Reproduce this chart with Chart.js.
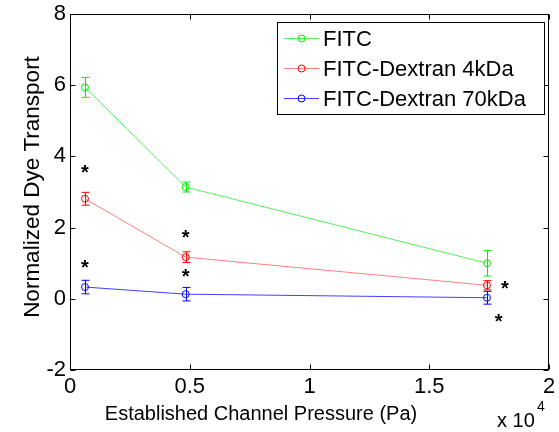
<!DOCTYPE html>
<html>
<head>
<meta charset="utf-8">
<script src="https://cdn.jsdelivr.net/npm/chart.js@4"></script>
<style>
  html, body { margin: 0; padding: 0; background: #fff; }
  #wrap { width: 559px; height: 432px; position: relative; }
</style>
</head>
<body>
<div id="wrap"><canvas id="chart" width="559" height="432"></canvas></div>
<script>
// pressure in Pa (axis is shown in units of 10^4)
const pressures = [626, 4830, 17410];
const seriesNames = ['FITC', 'FITC-Dextran 4kDa', 'FITC-Dextran 70kDa'];
const seriesColors = ['#00ee00', '#ff0000', '#0000ff'];
const lineColors = ['#55ee55', '#ff8080', '#4040ff'];

const fitcMean = [5.94, 3.14, 1.00];
const fitcErr = [0.28, 0.14, 0.36];
const dex4Mean = [2.81, 1.17, 0.38];
const dex4Err = [0.18, 0.15, 0.13];
const dex70Mean = [0.33, 0.13, 0.03];
const dex70Err = [0.19, 0.19, 0.18];

// significance asterisks
const starX = [626, 626, 4830, 4830, 18160, 17900];
const starY = [3.64, 0.97, 1.81, 0.72, 0.37, -0.55];

const xTicks = [0, 5000, 10000, 15000, 20000];
const yTicks = [-2, 0, 2, 4, 6, 8];

const means = [fitcMean, dex4Mean, dex70Mean];
const errs = [fitcErr, dex4Err, dex70Err];

const FONT = '"Liberation Sans", Arial, sans-serif';

function makeSet(i) {
  return {
    label: seriesNames[i],
    data: pressures.map((p, k) => ({ x: p, y: means[i][k], e: errs[i][k] })),
    borderColor: lineColors[i],
    pointBorderColor: seriesColors[i],
    pointBackgroundColor: 'rgba(0,0,0,0)',
    pointRadius: 3.5,
    pointBorderWidth: 1,
    borderWidth: 1,
    showLine: true,
    tension: 0
  };
}

const matlabAxes = {
  id: 'matlabAxes',
  beforeDatasetsDraw(chart) {
    const ctx = chart.ctx;
    const xs = chart.scales.x, ys = chart.scales.y;
    // error bars
    chart.data.datasets.forEach((ds, i) => {
      ctx.save();
      ctx.strokeStyle = seriesColors[i];
      ctx.lineWidth = 1;
      ds.data.forEach(pt => {
        const px = Math.round(xs.getPixelForValue(pt.x)) + 0.5;
        const top = ys.getPixelForValue(pt.y + pt.e);
        const bot = ys.getPixelForValue(pt.y - pt.e);
        ctx.beginPath();
        ctx.moveTo(px, top); ctx.lineTo(px, bot);
        ctx.moveTo(px - 4, top); ctx.lineTo(px + 4, top);
        ctx.moveTo(px - 4, bot); ctx.lineTo(px + 4, bot);
        ctx.stroke();
      });
      ctx.restore();
    });
  },
  afterDraw(chart) {
    const ctx = chart.ctx;
    const a = chart.chartArea;
    const xs = chart.scales.x, ys = chart.scales.y;
    ctx.save();
    // box
    ctx.strokeStyle = '#000';
    ctx.lineWidth = 1;
    const L = Math.round(a.left) + 0.5, R = Math.round(a.right) - 0.5;
    const T = Math.round(a.top) + 0.5, B = Math.round(a.bottom) - 0.5;
    ctx.strokeRect(L, T, R - L, B - T);
    // inward ticks
    ctx.beginPath();
    xTicks.forEach(v => {
      const px = Math.round(xs.getPixelForValue(v)) + 0.5;
      ctx.moveTo(px, B); ctx.lineTo(px, B - 5);
      ctx.moveTo(px, T); ctx.lineTo(px, T + 5);
    });
    yTicks.forEach(v => {
      const py = Math.round(ys.getPixelForValue(v)) + 0.5;
      ctx.moveTo(L, py); ctx.lineTo(L + 5, py);
      ctx.moveTo(R, py); ctx.lineTo(R - 5, py);
    });
    ctx.stroke();

    // tick labels
    ctx.fillStyle = '#000';
    ctx.font = '22px ' + FONT;
    ctx.textAlign = 'center';
    ctx.textBaseline = 'top';
    xTicks.forEach(v => {
      ctx.fillText(String(v / 10000), xs.getPixelForValue(v), a.bottom + 6);
    });
    ctx.textAlign = 'right';
    ctx.textBaseline = 'middle';
    yTicks.forEach(v => {
      ctx.fillText(String(v), a.left - 4, ys.getPixelForValue(v));
    });

    // axis titles
    ctx.font = '20px ' + FONT;
    ctx.textAlign = 'center';
    ctx.textBaseline = 'alphabetic';
    ctx.fillText('Established Channel Pressure (Pa)', 261, 420);
    ctx.save();
    ctx.font = '22.5px ' + FONT;
    ctx.translate(39, 187);
    ctx.rotate(-Math.PI / 2);
    ctx.fillText('Normalized Dye Transport', 0, 0);
    ctx.restore();

    // exponent label
    ctx.textAlign = 'left';
    ctx.font = '20px ' + FONT;
    ctx.fillText('x 10', 497, 427);
    ctx.font = '14px ' + FONT;
    ctx.fillText('4', 537, 411);

    // asterisks
    ctx.font = 'bold 20px ' + FONT;
    ctx.textAlign = 'center';
    ctx.textBaseline = 'middle';
    starX.forEach((x, k) => {
      ctx.fillText('*', xs.getPixelForValue(x), ys.getPixelForValue(starY[k]) + 4);
    });

    // legend box
    const lx = 277, ly = 22, lw = 267, lh = 92;
    ctx.fillStyle = '#fff';
    ctx.fillRect(lx, ly, lw, lh);
    ctx.strokeStyle = '#000';
    ctx.strokeRect(lx + 0.5, ly + 0.5, lw, lh);
    seriesNames.forEach((name, i) => {
      const yy = ly + 16 + i * 30 + 0.5;
      ctx.strokeStyle = lineColors[i];
      ctx.beginPath();
      ctx.moveTo(lx + 7, yy); ctx.lineTo(lx + 42, yy);
      ctx.stroke();
      ctx.strokeStyle = seriesColors[i];
      ctx.beginPath();
      ctx.arc(lx + 24.5, yy, 3.5, 0, Math.PI * 2);
      ctx.stroke();
      ctx.fillStyle = '#000';
      ctx.font = '22px ' + FONT;
      ctx.textAlign = 'left';
      ctx.textBaseline = 'middle';
      ctx.fillText(name, lx + 46, yy + 1);
    });
    ctx.restore();
  }
};

new Chart(document.getElementById('chart'), {
  type: 'scatter',
  data: { datasets: [0, 1, 2].map(makeSet) },
  options: {
    responsive: false,
    animation: false,
    layout: { padding: { left: 0, right: 10, top: 14, bottom: 0 } },
    plugins: { legend: { display: false }, tooltip: { enabled: false } },
    scales: {
      x: {
        type: 'linear', min: 0, max: 20000,
        grid: { display: false }, border: { display: false },
        ticks: { display: false },
        afterFit: s => { s.height = 62; }
      },
      y: {
        type: 'linear', min: -2, max: 8,
        grid: { display: false }, border: { display: false },
        ticks: { display: false },
        afterFit: s => { s.width = 70; }
      }
    }
  },
  plugins: [matlabAxes]
});
</script>
</body>
</html>
